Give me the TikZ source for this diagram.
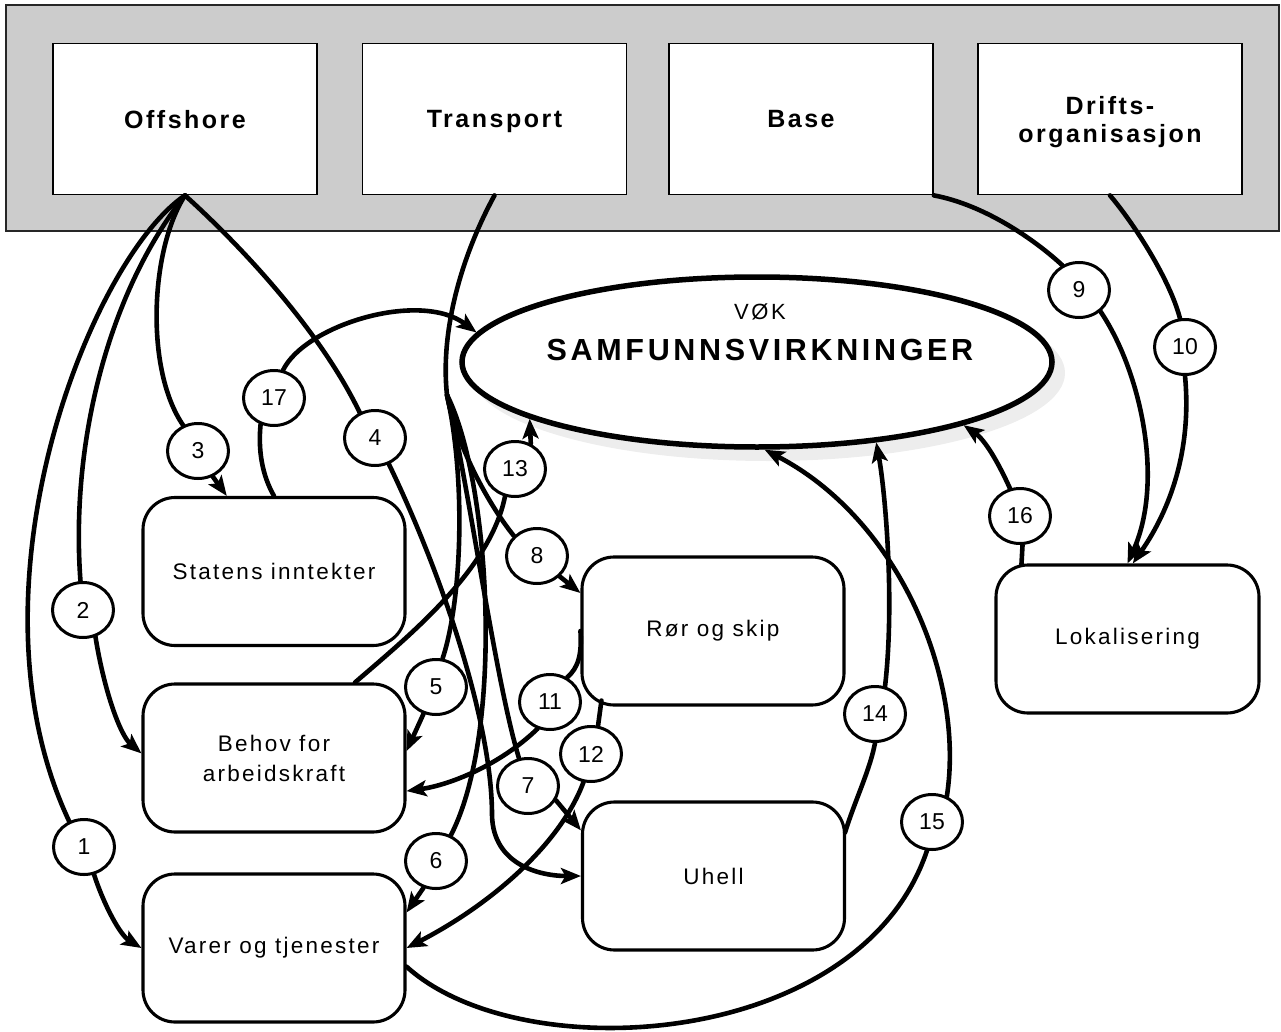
\documentclass[tikz,border=0pt]{standalone}
\usepackage{fontspec}
\setmainfont{Liberation Sans}
\newfontfamily\spacedfont[LetterSpace=10]{Liberation Sans}
\newfontfamily\widefont[LetterSpace=12]{Liberation Sans}
\usetikzlibrary{arrows.meta,shapes.geometric,calc}

\begin{document}
\begin{tikzpicture}[x=1pt,y=-1pt,
  headbox/.style={draw=black, line width=1.8pt, fill=white, minimum width=264pt,
    minimum height=151pt, inner sep=0pt, align=center, text depth=0pt,
    font=\spacedfont\bfseries\fontsize{25}{28}\selectfont},
  topicbox/.style={draw=black, line width=3.1pt, fill=white, rounded corners=32pt,
    minimum width=262pt, minimum height=148pt, inner sep=0pt, align=center,
    font=\spacedfont\fontsize{22.5}{30}\selectfont},
  tag/.style={ellipse, draw=black, line width=3pt, fill=white, minimum width=61pt,
    minimum height=55pt, inner sep=0pt, font=\fontsize{23}{25}\selectfont},
  link/.style={line width=4.6pt, line cap=round},
  arr/.style={link, -{Stealth[length=20pt,width=16pt,inset=4.5pt]}},
]
\useasboundingbox (0,0) rectangle (1281,1032);

% grey band holding the four sources
\filldraw[fill=black!20, draw=black!85, line width=1.8pt] (6,5) rectangle (1279,231);
\node[headbox] (off)   at (185,119)   {Offshore};
\node[headbox] (trans) at (494.5,119) {Transport};
\node[headbox] (base)  at (801,119)   {Base};
\node[headbox] (drift) at (1110,119)  {Drifts-\\organisasjon};

% central ellipse with its soft shadow
\fill[black!7] (768,373) ellipse [x radius=297, y radius=88];
\node[ellipse, draw=black, line width=5.5pt, fill=white, minimum width=590pt,
      minimum height=170pt, inner sep=0pt] (ell) at (757,362) {};
\node[font=\widefont\fontsize{22}{24}\selectfont] (vok) at (760,312) {VØK};
\node[font=\widefont\bfseries\fontsize{30.5}{33}\selectfont] (samf) at (760,350) {SAMFUNNSVIRKNINGER};

% effect boxes
\node[topicbox] (stat)  at (274,571.5) {Statens inntekter};
\node[topicbox] (behov) at (274,758)   {Behov for\\arbeidskraft};
\node[topicbox] (varer) at (274,948)   {Varer og tjenester};
\node[topicbox] (ror)   at (713,631)   {Rør og skip};
\node[topicbox] (uhell) at (713.5,876) {Uhell};
\node[topicbox, minimum width=263pt] (lok) at (1127.5,639) {Lokalisering};

% numbered tags
\node[tag] (c1)  at (84,847)   {1};
\node[tag] (c2)  at (83,610)   {2};
\node[tag] (c3)  at (198,451)  {3};
\node[tag] (c4)  at (375,438)  {4};
\node[tag] (c5)  at (436,687)  {5};
\node[tag] (c6)  at (436,861)  {6};
\node[tag] (c7)  at (528,786)  {7};
\node[tag] (c8)  at (537,556)  {8};
\node[tag] (c9)  at (1079,290) {9};
\node[tag] (c10) at (1185,347) {10};
\node[tag] (c11) at (550,702)  {11};
\node[tag] (c12) at (591,754)  {12};
\node[tag] (c13) at (515,469)  {13};
\node[tag] (c14) at (875,714)  {14};
\node[tag] (c15) at (932,822)  {15};
\node[tag] (c16) at (1020,516) {16};
\node[tag] (c17) at (274,398)  {17};

% Offshore
\draw[link] (off.south) .. controls (90,260) and (-40,590) .. (c1.120);
\draw[arr]  (c1.-70) .. controls (104,905) and (120,935) .. (varer.west);
\draw[link] (off.south) .. controls (110,290) and (70,440) .. (c2.95);
\draw[arr]  (c2.-65) .. controls (104,690) and (120,735) .. (behov.178);
\draw[link] (off.south) .. controls (150,250) and (145,370) .. (c3.120);
\draw[arr]  (c3.-60) -- (stat.122);
\draw[link] (off.south) .. controls (240,245) and (320,330) .. (c4.121);
\draw[arr]  (c4.-62) .. controls (440,570) and (492,720) .. (492,815)
            .. controls (493,865) and (540,876) .. (uhell.west);

% Transport: one trunk that splits into four
\coordinate (tb) at (447,395);
\draw[link] (trans.south) .. controls (462,255) and (440,330) .. (tb);
\draw[link] (tb) .. controls (466,480) and (462,600) .. (c5.77);
\draw[arr]  (c5.-115) -- (behov.3);
\draw[link] (tb) .. controls (490,480) and (505,730) .. (c6.60);
\draw[arr]  (c6.-115) -- (varer.15);
\draw[link] (tb) .. controls (468,480) and (495,680) .. (c7.108);
\draw[arr]  (c7.-27) -- (uhell.161);
\draw[link] (tb) .. controls (455,440) and (485,500) .. (c8.139);
\draw[arr]  (c8.-42) -- (ror.164);

% Base and Driftsorganisasjon
\draw[link] (base.south east) .. controls (985,205) and (1035,240) .. (c9.124);
\draw[arr]  (c9.-45) .. controls (1140,370) and (1165,480) .. (lok.north);
\draw[link] (drift.south) .. controls (1135,225) and (1170,280) .. (c10.100);
\draw[arr]  (c10.-90) .. controls (1192,450) and (1170,510) .. (lok.86);

% Rør og skip
\draw[link] (ror.west) .. controls (582,655) and (578,668) .. (c11.55);
\draw[arr]  (c11.-115) .. controls (500,765) and (450,785) .. (behov.-14);
\draw[link] ($(ror.south west)+(21,-6)$) -- (c12.76);
\draw[arr]  (c12.-105) .. controls (560,845) and (490,905) .. (varer.east);

% Behov for arbeidskraft
\draw[link] (behov.43) .. controls (410,635) and (490,570) .. (c13.-110);
\draw[arr]  (c13.58) -- (ell.194);

% Uhell
\draw[link] ($(uhell.north east)+(-1,32)$) .. controls (855,800) and (870,770) .. (c14.-90);
\draw[arr]  (c14.70) .. controls (895,600) and (885,490) .. (ell.-34);

% Varer og tjenester
\draw[link] (varer.-8) .. controls (520,1070) and (860,1050) .. (c15.-100);
\draw[arr]  (c15.60) .. controls (965,680) and (900,520) .. (ell.-85);

% Lokalisering
\draw[link] ($(lok.north west)+(27,1)$) -- (c16.-85);
\draw[arr]  (c16.110) .. controls (998,462) and (985,440) .. (ell.-17);

% Statens inntekter
\draw[link] (stat.north) .. controls (262,475) and (258,450) .. (c17.-117);
\draw[arr]  (c17.72) .. controls (305,325) and (420,290) .. (ell.174);
\end{tikzpicture}
\end{document}
